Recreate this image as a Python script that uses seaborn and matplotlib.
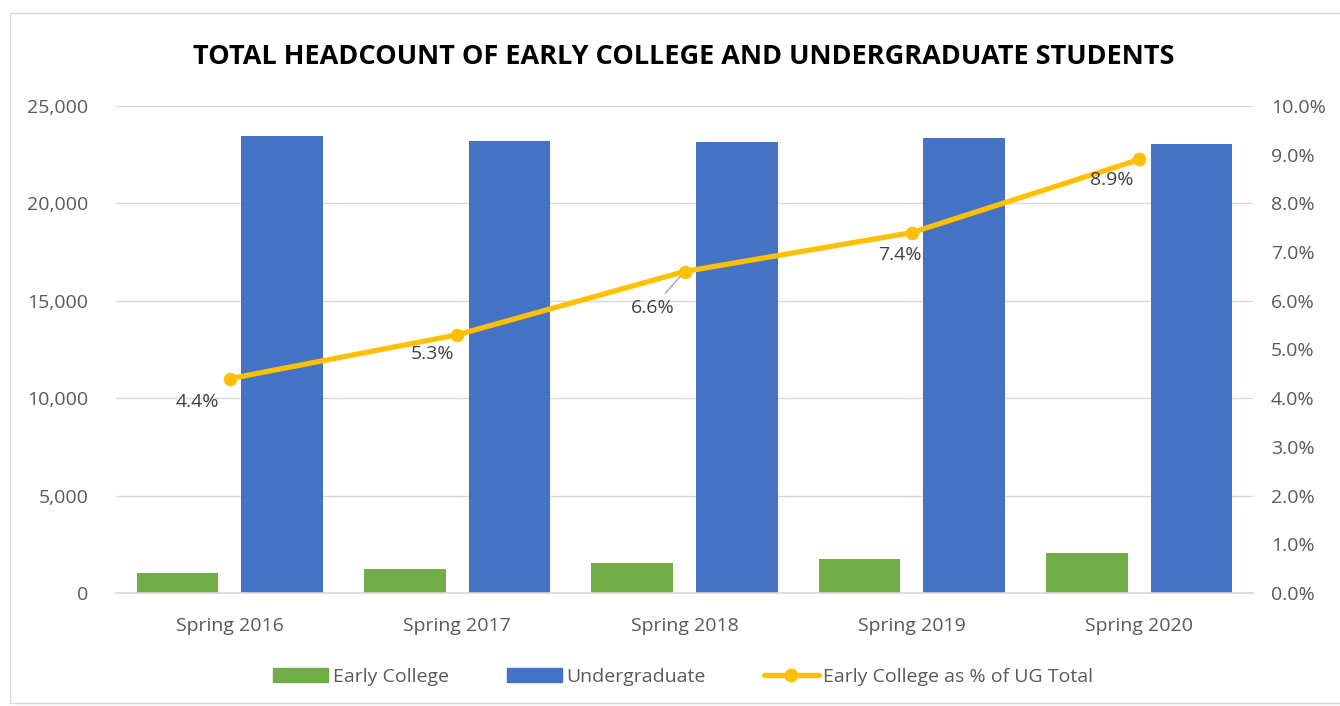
import numpy as np
import pandas as pd
import matplotlib.pyplot as plt
import matplotlib.ticker as mtick
from matplotlib.patches import Rectangle
import seaborn as sns

# data
terms = ["Spring 2016", "Spring 2017", "Spring 2018", "Spring 2019", "Spring 2020"]
early_college = [1030, 1230, 1530, 1730, 2050]
undergraduate = [23470, 23210, 23150, 23360, 23060]
pct_of_ug = [4.4, 5.3, 6.6, 7.4, 8.9]

green = "#70AD47"
blue = "#4472C4"
gold = "#FFC000"
grey_txt = "#595959"

sns.set_theme(style="white")
plt.rcParams["font.family"] = ["Open Sans", "DejaVu Sans"]

df = pd.DataFrame({
    "term": terms * 2,
    "series": ["Early College"] * len(terms) + ["Undergraduate"] * len(terms),
    "headcount": early_college + undergraduate,
})

fig = plt.figure(figsize=(13.4, 7.06), dpi=100)
ax = fig.add_axes([0.0866, 0.160, 0.8485, 0.690])

sns.barplot(data=df, x="term", y="headcount", hue="series",
            palette=[green, blue], width=0.92, gap=0.22,
            saturation=1, edgecolor="none", ax=ax, legend=False)

ax.set_ylim(0, 25000)
ax.set_xlim(-0.5, len(terms) - 0.5)
ax.yaxis.set_major_locator(mtick.MultipleLocator(5000))
ax.yaxis.set_major_formatter(mtick.StrMethodFormatter("{x:,.0f}"))
ax.grid(axis="y", color="#D9D9D9", linewidth=1)
ax.set_axisbelow(True)
for s in ["top", "right", "left"]:
    ax.spines[s].set_visible(False)
ax.spines["bottom"].set_color("#D9D9D9")
ax.spines["bottom"].set_linewidth(1.2)
ax.set_xlabel("")
ax.set_ylabel("")
ax.tick_params(axis="both", labelsize=14, colors=grey_txt, length=0)
ax.tick_params(axis="x", pad=17)
ax.tick_params(axis="y", pad=20)

ax2 = ax.twinx()
xs = np.arange(len(terms))
sns.lineplot(x=xs, y=pct_of_ug, color=gold, linewidth=3.8, marker="o",
             markersize=9, markeredgecolor=gold, ax=ax2)
ax2.set_ylim(0, 10)
ax2.set_xlim(-0.5, len(terms) - 0.5)
ax2.yaxis.set_major_locator(mtick.MultipleLocator(1))
ax2.yaxis.set_major_formatter(mtick.FuncFormatter(lambda v, p: f"{v:.1f}%"))
for s in ["top", "right", "left", "bottom"]:
    ax2.spines[s].set_visible(False)
ax2.tick_params(axis="y", labelsize=14, colors=grey_txt, length=0, pad=13)
ax2.grid(False)

# data labels
offsets = [(-23, -17), (-18, -14), (-23, -26), (-9, -16), (-20, -15)]
for i, (v, off) in enumerate(zip(pct_of_ug, offsets)):
    kw = {}
    if i == 2:
        kw["arrowprops"] = dict(arrowstyle="-", color="#A6A6A6", lw=1,
                                shrinkA=2, shrinkB=4)
    ax2.annotate(f"{v}%", xy=(xs[i], v), xytext=off, textcoords="offset points",
                 ha="center", va="center", fontsize=14, color="#404040", **kw)

fig.suptitle("TOTAL HEADCOUNT OF EARLY COLLEGE AND UNDERGRADUATE STUDENTS",
             x=0.51, y=0.937, fontsize=19.5, fontweight="bold", color="black")

# legend
handles = [
    Rectangle((0, 0), 1, 1, color=green),
    Rectangle((0, 0), 1, 1, color=blue),
    plt.Line2D([], [], color=gold, lw=3.8, marker="o", markersize=9),
]
fig.legend(handles, ["Early College", "Undergraduate", "Early College as % of UG Total"],
           loc="center", bbox_to_anchor=(0.51, 0.041), ncol=3, frameon=False,
           fontsize=14, labelcolor=grey_txt, handlelength=2.8, handleheight=0.7,
           columnspacing=3.0, handletextpad=0.25)

fig.patches.append(Rectangle((0.0075, 0.004), 1.2, 0.978, transform=fig.transFigure,
                             fill=False, edgecolor="#D9D9D9", linewidth=1))

fig.savefig("out.png", dpi=100)
